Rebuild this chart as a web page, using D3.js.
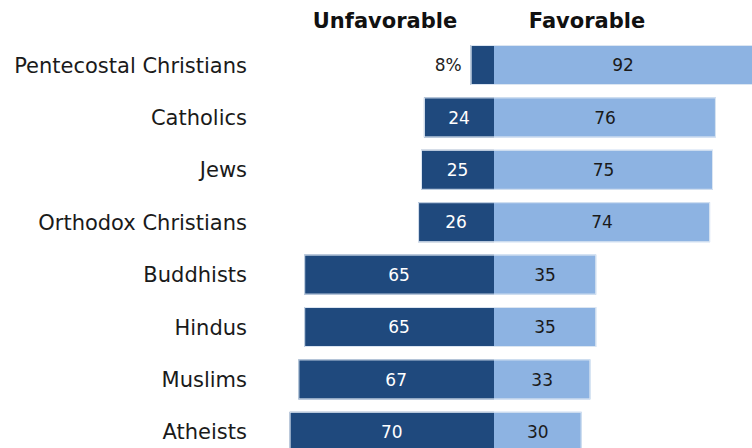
<!DOCTYPE html>
<html>
<head>
<meta charset="utf-8">
<script src="https://cdn.jsdelivr.net/npm/d3@7"></script>
<style>
  html, body { margin: 0; padding: 0; background: #ffffff; }
  svg { display: block; font-family: "DejaVu Sans", Verdana, sans-serif; }
</style>
</head>
<body>
<svg id="chart" width="752" height="448"></svg>
<script>
// Views of religious groups: share unfavorable vs. favorable
const groups = ["Pentecostal Christians", "Catholics", "Jews", "Orthodox Christians",
                "Buddhists", "Hindus", "Muslims", "Atheists"];
const unfavorable = [8, 24, 25, 26, 65, 65, 67, 70];
const favorable   = [92, 76, 75, 74, 35, 35, 33, 30];
const headers = ["Unfavorable", "Favorable"];

const W = 752, H = 448;
const darkBlue = "#1f497d", lightBlue = "#8db3e2";

const svg = d3.select("#chart");

// Diverging scale: negative = unfavorable side, positive = favorable side
const x = d3.scaleLinear().domain([-100, 100]).range([202, 786]);
const y = d3.scaleBand().domain(groups)
  .range([38.8, 458.0]).paddingInner(0.237).paddingOuter(0.1185);

const rows = groups.map((g, i) => ({ g, unf: unfavorable[i], fav: favorable[i], i }));

const row = svg.append("g").selectAll("g").data(rows).join("g")
  .attr("transform", d => `translate(0,${y(d.g)})`);

const bh = y.bandwidth();

// Unfavorable segment (left of zero)
row.append("rect")
  .attr("x", d => x(-d.unf)).attr("y", 0)
  .attr("width", d => x(0) - x(-d.unf)).attr("height", bh)
  .attr("fill", darkBlue);

// Favorable segment (right of zero)
row.append("rect")
  .attr("x", x(0)).attr("y", 0)
  .attr("width", d => x(d.fav) - x(0)).attr("height", bh)
  .attr("fill", lightBlue);

// Soft outline around each bar
row.append("rect")
  .attr("x", d => x(-d.unf) + 0.5).attr("y", 0.5)
  .attr("width", d => x(d.fav) - x(-d.unf) - 1).attr("height", bh - 1)
  .attr("fill", "none").attr("stroke", "#dce6f2").attr("stroke-width", 1);

const fs = 17;

// Unfavorable values: inside the bar, or just outside when the bar is short
row.append("text")
  .attr("x", d => d.unf < 12 ? x(-d.unf) - 9 : (x(-d.unf) + x(0)) / 2)
  .attr("y", bh / 2).attr("dy", "0.36em")
  .attr("text-anchor", d => d.unf < 12 ? "end" : "middle")
  .attr("font-size", fs)
  .attr("fill", d => d.unf < 12 ? "#222" : "#ffffff")
  .text(d => d.i === 0 ? d.unf + "%" : d.unf);

// Favorable values, centred in the visible part of the bar
row.append("text")
  .attr("x", d => (x(0) + Math.min(x(d.fav), W)) / 2)
  .attr("y", bh / 2).attr("dy", "0.36em")
  .attr("text-anchor", "middle")
  .attr("font-size", fs)
  .attr("fill", "#1a1a1a")
  .text(d => d.fav);

// Category labels
row.append("text")
  .attr("x", 247).attr("y", bh / 2).attr("dy", "0.36em")
  .attr("text-anchor", "end")
  .attr("font-size", 21)
  .attr("fill", "#1a1a1a")
  .text(d => d.g);

// Column headers
svg.append("g").selectAll("text").data(headers).join("text")
  .attr("x", (d, i) => i === 0 ? 385 : 587)
  .attr("y", 27.5)
  .attr("text-anchor", "middle")
  .attr("font-size", 21)
  .attr("font-weight", "bold")
  .attr("fill", "#111")
  .text(d => d);
</script>
</body>
</html>
